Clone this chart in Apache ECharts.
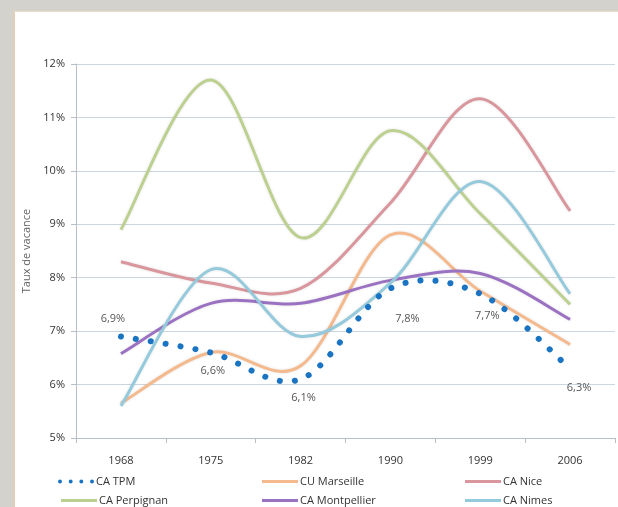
<!DOCTYPE html>
<html>
<head>
<meta charset="utf-8">
<script src="https://cdn.jsdelivr.net/npm/echarts@6/dist/echarts.min.js"></script>
<style>
  html, body { margin: 0; padding: 0; background: #d3d2cd; }
  .panel {
    position: absolute; left: 13px; top: 11px; width: 605px; height: 496px;
    background: #fff; border-left: 2px solid #e3cfb3; border-top: 1px solid #eadccb;
  }
  #chart { position: absolute; left: 0; top: 0; width: 618px; height: 507px; }
</style>
</head>
<body>
<div class="panel"></div>
<div id="chart"></div>
<script>
// années
const years = ['1968', '1975', '1982', '1990', '1999', '2006'];
// taux de vacance (%)
const caTpm = [6.9, 6.6, 6.1, 7.8, 7.7, 6.3];
const cuMarseille = [5.65, 6.6, 6.35, 8.8, 7.75, 6.75];
const caNice = [8.3, 7.9, 7.8, 9.4, 11.35, 9.25];
const caPerpignan = [8.9, 11.7, 8.75, 10.75, 9.2, 7.5];
const caMontpellier = [6.58, 7.52, 7.52, 7.95, 8.08, 7.22];
const caNimes = [5.6, 8.15, 6.9, 7.9, 9.8, 7.7];

const chart = echarts.init(document.getElementById('chart'));

// décalage des étiquettes de CA TPM (px)
const labelOffsets = [[-8, -18], [2, 18], [3, 19], [17, 30], [7, 22], [9, 19]];

// courbe lissée façon Excel (Catmull-Rom) passant par les points
function splinePath(api, values) {
  const pts = values.map((v, i) => api.coord([i, v]));
  let d = 'M' + pts[0][0] + ',' + pts[0][1];
  for (let i = 0; i < pts.length - 1; i++) {
    const p0 = pts[Math.max(i - 1, 0)];
    const p1 = pts[i];
    const p2 = pts[i + 1];
    const p3 = pts[Math.min(i + 2, pts.length - 1)];
    const c1 = [p1[0] + (p2[0] - p0[0]) / 6, p1[1] + (p2[1] - p0[1]) / 6];
    const c2 = [p2[0] - (p3[0] - p1[0]) / 6, p2[1] - (p3[1] - p1[1]) / 6];
    d += ' C' + c1.join(',') + ' ' + c2.join(',') + ' ' + p2.join(',');
  }
  return d;
}

const fmt = v => String(v).replace('.', ',') + '%';

const curveSeries = (name, values, color, opts) => {
  opts = opts || {};
  return {
    name,
    type: 'custom',
    coordinateSystem: 'cartesian2d',
    data: values.map((v, i) => [i, v]),
    itemStyle: { color },
    z: opts.z || 2,
    renderItem: (params, api) => {
      const children = [];
      if (params.dataIndex === 0) {
        children.push({
          type: 'path',
          shape: { pathData: splinePath(api, values) },
          style: Object.assign({
            fill: null,
            stroke: color,
            lineWidth: 3,
            shadowColor: 'rgba(0,0,0,0.12)',
            shadowBlur: 3
          }, opts.style || {})
        });
      }
      if (opts.labels) {
        const p = api.coord([params.dataIndex, values[params.dataIndex]]);
        const off = labelOffsets[params.dataIndex];
        children.push({
          type: 'text',
          x: p[0] + off[0],
          y: p[1] + off[1],
          style: {
            text: fmt(values[params.dataIndex]),
            fill: '#555',
            fontSize: 11,
            fontFamily: 'Open Sans, sans-serif',
            align: 'center',
            verticalAlign: 'middle'
          }
        });
      }
      return { type: 'group', children };
    }
  };
};

// icône de légende en pointillés
const dotsIcon = 'path://M0,2a2,2 0 1,0 4,0a2,2 0 1,0 -4,0z M10.67,2a2,2 0 1,0 4,0a2,2 0 1,0 -4,0z M21.33,2a2,2 0 1,0 4,0a2,2 0 1,0 -4,0z M32,2a2,2 0 1,0 4,0a2,2 0 1,0 -4,0z';

const legendPos = [
  ['CA TPM', 53, 471], ['CU Marseille', 257, 471], ['CA Nice', 460, 471],
  ['CA Perpignan', 56, 490], ['CA Montpellier', 257, 490], ['CA Nimes', 460, 490]
];

const option = {
  animation: false,
  textStyle: { fontFamily: 'Open Sans, Liberation Sans, sans-serif' },
  grid: { left: 76, right: 3, top: 64, bottom: 69 },
  xAxis: {
    type: 'category',
    data: years,
    boundaryGap: true,
    axisLine: { lineStyle: { color: '#b8bfc7' } },
    axisTick: { show: true, length: 5, lineStyle: { color: '#b8bfc7' } },
    axisLabel: { color: '#333', fontSize: 11, margin: 17 }
  },
  yAxis: {
    type: 'value',
    min: 5,
    max: 12,
    interval: 1,
    name: 'Taux de vacance',
    nameLocation: 'middle',
    nameGap: 39,
    nameTextStyle: { color: '#666', fontSize: 11 },
    axisLine: { show: true, lineStyle: { color: '#b8bfc7' } },
    axisTick: { show: true, length: 5, lineStyle: { color: '#b8bfc7' } },
    axisLabel: { color: '#333', fontSize: 11, margin: 11, formatter: '{value}%' },
    splitLine: { lineStyle: { color: '#cdd5de' } }
  },
  legend: legendPos.map(([name, left, top]) => ({
    left, top,
    data: [{ name, icon: name === 'CA TPM' ? dotsIcon : 'rect' }],
    itemWidth: 36,
    itemHeight: name === 'CA TPM' ? 5 : 3,
    textStyle: { color: '#333', fontSize: 11, padding: [0, 0, 0, -3] }
  })),
  series: [
    curveSeries('CU Marseille', cuMarseille, '#f4b98d'),
    curveSeries('CA Nice', caNice, '#d9969c'),
    curveSeries('CA Perpignan', caPerpignan, '#bcd08f'),
    curveSeries('CA Montpellier', caMontpellier, '#9b72c2'),
    curveSeries('CA Nimes', caNimes, '#94cadb'),
    curveSeries('CA TPM', caTpm, '#1b74c2', {
      z: 5,
      labels: true,
      style: { lineWidth: 6, lineDash: [0.1, 15], lineCap: 'round', shadowBlur: 0 }
    })
  ]
};

chart.setOption(option);
</script>
</body>
</html>
